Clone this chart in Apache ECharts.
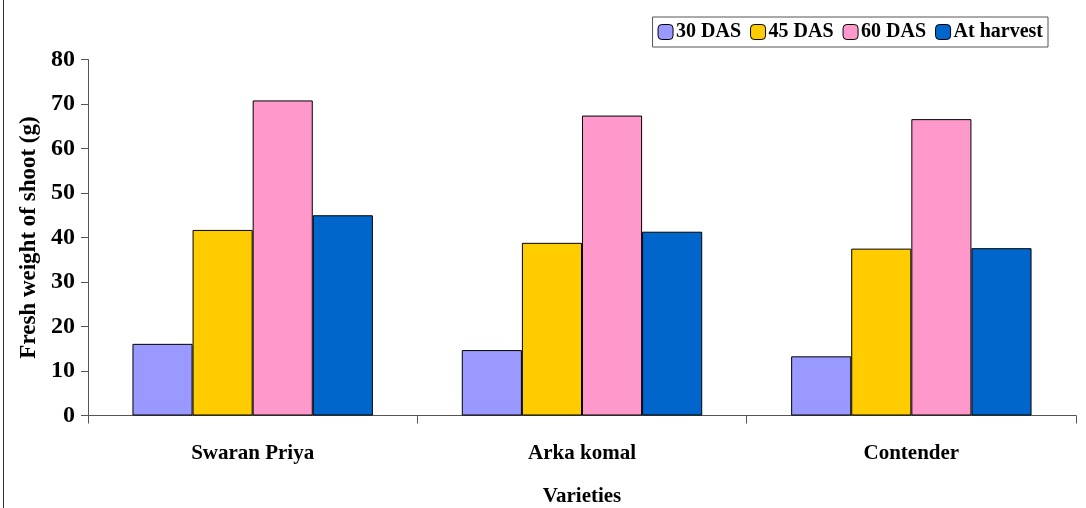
<!DOCTYPE html>
<html><head><meta charset="utf-8">
<script src="https://cdn.jsdelivr.net/npm/echarts@6/dist/echarts.min.js"></script>
<style>html,body{margin:0;padding:0;background:#fff}#c{width:1086px;height:508px}</style>
</head><body><div id="c"></div>
<script>
const categories = ['Swaran Priya', 'Arka komal', 'Contender'];
const seriesNames = ['30 DAS', '45 DAS', '60 DAS', 'At harvest'];
const das30 = [16.1, 14.7, 13.3];
const das45 = [41.7, 38.8, 37.5];
const das60 = [70.8, 67.4, 66.6];
const harvest = [45.0, 41.3, 37.6];
const colors = ['#9999ff', '#ffcc00', '#ff99cc', '#0066cc'];
const yTicks = [0, 10, 20, 30, 40, 50, 60, 70, 80];

const font = 'Liberation Serif';
const values = [das30, das45, das60, harvest];
const chart = echarts.init(document.getElementById('c'), null, {renderer: 'canvas', width: 1086, height: 508});
chart.setOption({
  animation: false,
  backgroundColor: '#fff',
  graphic: [{type: 'line', shape: {x1: 3.5, y1: 0, x2: 3.5, y2: 508}, style: {stroke: '#333', lineWidth: 1}}],
  grid: {left: 88, right: 10, top: 59.5, bottom: 92.5, containLabel: false, outerBoundsMode: 'none'},
  legend: {
    top: 17, right: 38, orient: 'horizontal',
    borderColor: '#555', borderWidth: 1, padding: [5, 5, 5, 5],
    itemWidth: 15, itemHeight: 15, itemGap: 9,
    itemStyle: {borderColor: '#000', borderWidth: 1},
    textStyle: {fontFamily: font, fontWeight: 'bold', fontSize: 20, color: '#000', padding: [0, 0, 0, -2]},
    data: seriesNames
  },
  xAxis: {
    type: 'category', data: categories,
    name: 'Varieties', nameLocation: 'middle', nameGap: 71,
    nameTextStyle: {fontFamily: font, fontWeight: 'bold', fontSize: 21, color: '#000'},
    axisLine: {lineStyle: {color: '#555', width: 1}},
    axisTick: {show: true, length: 8, lineStyle: {color: '#555'}},
    axisLabel: {fontFamily: font, fontWeight: 'bold', fontSize: 21, color: '#000', margin: 28}
  },
  yAxis: {
    type: 'value', min: 0, max: 80, interval: 10,
    name: 'Fresh weight of shoot (g)', nameLocation: 'middle', nameGap: 40,
    nameTextStyle: {fontFamily: font, fontWeight: 'bold', fontSize: 23, color: '#000'},
    splitLine: {show: false},
    axisLine: {show: true, lineStyle: {color: '#555', width: 1}},
    axisTick: {show: true, length: 7, lineStyle: {color: '#555'}},
    axisLabel: {fontFamily: font, fontWeight: 'bold', fontSize: 24, color: '#000', margin: 13,
      formatter: v => yTicks.includes(v) ? String(v) : ''}
  },
  series: seriesNames.map((n, i) => ({
    name: n, type: 'bar', data: values[i],
    barGap: '0%', barCategoryGap: '27%',
    itemStyle: {color: colors[i], borderColor: '#000', borderWidth: 1}
  }))
});
</script></body></html>
